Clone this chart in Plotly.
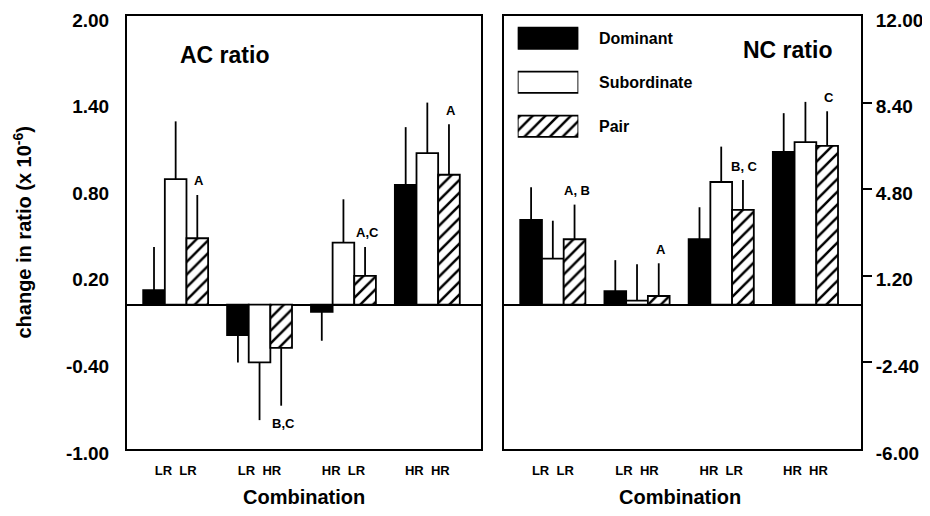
import plotly.graph_objects as go

# ---------------- data ----------------
COMBOS = ["LR\u00a0\u00a0LR", "LR\u00a0\u00a0HR", "HR\u00a0\u00a0LR", "HR\u00a0\u00a0HR"]
SERIES = ["Dominant", "Subordinate", "Pair"]

AC_DOM = [0.10, -0.21, -0.05, 0.83]
AC_SUB = [0.87, -0.40, 0.43, 1.05]
AC_PAIR = [0.46, -0.30, 0.20, 0.90]
AC_DOM_ERR = [0.30, 0.19, 0.20, 0.40]
AC_SUB_ERR = [0.40, 0.40, 0.30, 0.35]
AC_PAIR_ERR = [0.30, 0.40, 0.20, 0.35]
AC_LETTERS = ["A", "B,C", "A,C", "A"]

NC_DOM = [3.52, 0.56, 2.72, 6.35]
NC_SUB = [1.91, 0.17, 5.10, 6.76]
NC_PAIR = [2.72, 0.36, 3.94, 6.60]
NC_DOM_ERR = [1.36, 1.29, 1.33, 1.61]
NC_SUB_ERR = [1.58, 1.51, 1.47, 1.67]
NC_PAIR_ERR = [1.44, 1.36, 1.24, 1.44]
NC_LETTERS = ["A, B", "A", "B, C", "C"]

AC_TICKVALS = [-1.0, -0.4, 0.2, 0.8, 1.4, 2.0]
AC_TICKTEXT = ["-1.00", "-0.40", "0.20", "0.80", "1.40", "2.00"]
NC_TICKVALS = [-6.0, -2.4, 1.2, 4.8, 8.4, 12.0]
NC_TICKTEXT = ["-6.00", "-2.40", "1.20", "4.80", "8.40", "12.00"]

# ---------------- style ----------------
FONT = "Liberation Sans, Arial, sans-serif"
BARGAP = 0.226
LW = 1.8


def marker_for(name):
    if name == "Dominant":
        return dict(color="black", line=dict(color="black", width=LW))
    if name == "Subordinate":
        return dict(color="white", line=dict(color="black", width=LW))
    return dict(color="white", line=dict(color="black", width=LW),
                pattern=dict(shape="/", fgcolor="black", bgcolor="white",
                             size=9, solidity=0.28, fillmode="replace"))


fig = go.Figure()
xs = list(range(len(COMBOS)))


def add_panel(vals, errs, xa, ya):
    for name, v, e in zip(SERIES, vals, errs):
        up = [ee if vv >= 0 else 0 for vv, ee in zip(v, e)]
        dn = [0 if vv >= 0 else ee for vv, ee in zip(v, e)]
        fig.add_trace(go.Bar(
            x=xs, y=v, name=name, xaxis=xa, yaxis=ya, offsetgroup=name, showlegend=False,
            marker=marker_for(name),
            error_y=dict(type="data", symmetric=False, array=up, arrayminus=dn,
                         width=0, thickness=LW, color="black"),
        ))


add_panel([AC_DOM, AC_SUB, AC_PAIR], [AC_DOM_ERR, AC_SUB_ERR, AC_PAIR_ERR], "x", "y")
add_panel([NC_DOM, NC_SUB, NC_PAIR], [NC_DOM_ERR, NC_SUB_ERR, NC_PAIR_ERR], "x2", "y2")

# legend swatches drawn as bars on a small hidden axis
for s in SERIES:
    fig.add_trace(go.Bar(
        x=[1], y=[s], orientation="h", xaxis="x3", yaxis="y3", width=0.48, base=0,
        offsetgroup="legend", showlegend=False, marker=marker_for(s), hoverinfo="skip",
    ))

annotations = []
pair_off = (1 - BARGAP) / 3
for xa, ya, vals, errs, letters in [
    ("x", "y", AC_PAIR, AC_PAIR_ERR, AC_LETTERS),
    ("x2", "y2", NC_PAIR, NC_PAIR_ERR, NC_LETTERS),
]:
    for i, (v, e, t) in enumerate(zip(vals, errs, letters)):
        tip = v + e if v >= 0 else v - e
        annotations.append(dict(
            x=i + pair_off, y=tip, xref=xa, yref=ya, text=t, showarrow=False,
            yshift=14 if v >= 0 else -18, xshift=2,
            font=dict(family=FONT, size=13, color="black", weight="bold"),
        ))

for s in SERIES:
    annotations.append(dict(x=0.64, y=s, xref="paper", yref="y3", text=s, showarrow=False,
                            xanchor="left", yanchor="middle",
                            font=dict(family=FONT, size=16, color="black", weight="bold")))

annotations += [
    dict(x=0.0695, y=0.910, xref="paper", yref="paper", text="AC ratio", showarrow=False,
         xanchor="left", yanchor="middle", font=dict(family=FONT, size=23, color="black", weight="bold")),
    dict(x=0.8365, y=0.9215, xref="paper", yref="paper", text="NC ratio", showarrow=False,
         xanchor="left", yanchor="middle", font=dict(family=FONT, size=23, color="black", weight="bold")),
    dict(x=0.241, y=-0.111, xref="paper", yref="paper", text="Combination", showarrow=False,
         xanchor="center", yanchor="middle", font=dict(family=FONT, size=20, color="black", weight="bold")),
    dict(x=0.753, y=-0.111, xref="paper", yref="paper", text="Combination", showarrow=False,
         xanchor="center", yanchor="middle", font=dict(family=FONT, size=20, color="black", weight="bold")),
    dict(x=-0.143, y=0.5, xref="paper", yref="paper", text="change in ratio (x 10<sup>-6</sup>)",
         showarrow=False, textangle=-90, xanchor="center", yanchor="middle",
         font=dict(family=FONT, size=20, color="black", weight="bold")),
]

axis_common = dict(showline=True, mirror=True, linecolor="black", linewidth=2, showgrid=False,
                   automargin=False, fixedrange=True)
tickfont_y = dict(family=FONT, size=19, color="black", weight="bold")
tickfont_x = dict(family=FONT, size=13, color="black", weight="bold")

# page body has an 8px margin, so the figure is sized/margined to land on the reference layout
fig.update_layout(
    template="none",
    width=914, height=500,
    margin=dict(l=119, r=61, t=8, b=59),
    paper_bgcolor="white", plot_bgcolor="white",
    barmode="group", bargap=BARGAP, bargroupgap=0,
    showlegend=False,
    annotations=annotations,
    xaxis=dict(domain=[0, 0.4823], range=[-0.58, 3.64], tickvals=xs, ticktext=COMBOS,
               ticks="", tickfont=tickfont_x, anchor="y", zeroline=False, ticklabelstandoff=8, **axis_common),
    yaxis=dict(domain=[0, 1], range=[-1, 2], tickvals=AC_TICKVALS, ticktext=AC_TICKTEXT,
               ticks="", tickfont=tickfont_y, anchor="x", ticklabelstandoff=12,
               ticklabelshift=4, ticklabeloverflow="allow",
               zeroline=True, zerolinecolor="black", zerolinewidth=2, **axis_common),
    xaxis2=dict(domain=[0.5136, 1], range=[-0.58, 3.66], tickvals=xs, ticktext=COMBOS,
                ticks="", tickfont=tickfont_x, anchor="y2", zeroline=False, ticklabelstandoff=8, **axis_common),
    yaxis2=dict(domain=[0, 1], range=[-6, 12], tickvals=NC_TICKVALS, ticktext=NC_TICKTEXT,
                ticks="", side="right", ticklabelstandoff=9, ticklabelshift=4, ticklabeloverflow="allow",
                minor=dict(tickvals=NC_TICKVALS[1:-1], ticks="outside", ticklen=9, tickwidth=2,
                           tickcolor="black", showgrid=False),
                tickfont=tickfont_y, anchor="x2",
                zeroline=True, zerolinecolor="black", zerolinewidth=2, **axis_common),
    xaxis3=dict(domain=[0.5323, 0.6149], range=[0, 1], visible=False, anchor="y3", fixedrange=True),
    yaxis3=dict(domain=[0.6945, 0.9995], range=[2.5, -0.5], visible=False, anchor="x3",
                type="category", categoryorder="array", categoryarray=SERIES, fixedrange=True),
)

fig.write_html("out.html")
